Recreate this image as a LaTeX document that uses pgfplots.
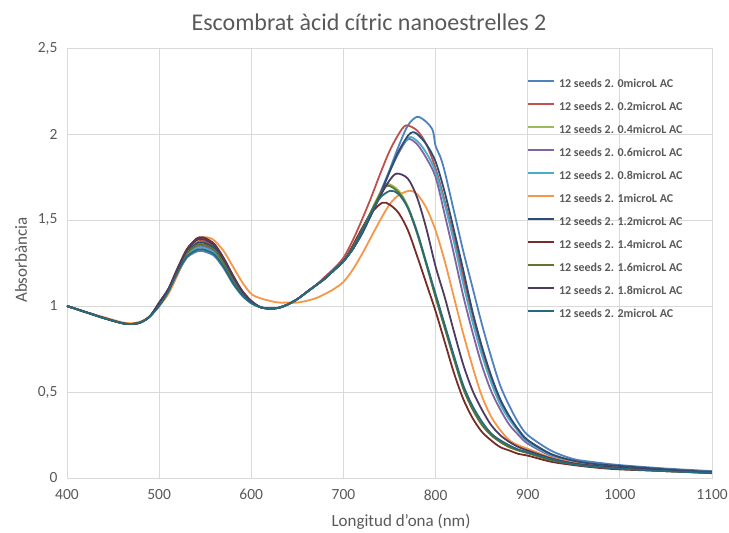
\documentclass[border=0pt]{standalone}
\usepackage{pgfplots}
\pgfplotsset{compat=1.18}
\usepackage{fontspec}
\setmainfont{Carlito}
\definecolor{c0}{HTML}{4F81BD}
\definecolor{c1}{HTML}{C0504D}
\definecolor{c2}{HTML}{9BBB59}
\definecolor{c3}{HTML}{8064A2}
\definecolor{c4}{HTML}{4BACC6}
\definecolor{c5}{HTML}{F79646}
\definecolor{c6}{HTML}{2C4D75}
\definecolor{c7}{HTML}{772C2A}
\definecolor{c8}{HTML}{5F7530}
\definecolor{c9}{HTML}{4D3B62}
\definecolor{c10}{HTML}{276A7C}
\definecolor{txt}{HTML}{595959}
\definecolor{grd}{HTML}{D9D9D9}
\begin{document}
\begin{tikzpicture}
\begin{axis}[
  at={(0pt,0pt)}, anchor=south west,
  scale only axis, width=645pt, height=430pt,
  xmin=400, xmax=1100, ymin=0, ymax=2.5,
  xtick={400,500,...,1100}, ytick={0,0.5,1,1.5,2,2.5},
  grid=major, major grid style={grd, line width=0.75pt},
  axis line style={grd, line width=0.75pt},
  major tick length=0pt,
  tick label style={font=\fontsize{15.5}{18}\selectfont, text=txt},
  /pgf/number format/assume math mode=true,
  /pgf/number format/use comma,
  /pgf/number format/1000 sep={},
  xticklabel style={yshift=-8pt},
  yticklabel style={xshift=-6pt},
  every axis plot/.append style={line width=1.8pt, smooth, tension=0.5, no markers},
  legend cell align=left,
  legend style={at={(0.7132,0.930)}, anchor=north west, draw=none, fill=none,
    inner sep=0pt, outer sep=0pt,
    font=\bfseries\fontsize{12}{14}\selectfont, row sep=11pt,
    nodes={inner sep=0pt, text height=9pt, text depth=3pt, text=txt},
    /tikz/every odd column/.append style={column sep=4pt}},
  legend image code/.code={\draw[#1, line width=2pt] (0pt,3.5pt) -- (26pt,3.5pt);},
]
% 0
\addplot[color=c0] coordinates {(400,1.00)(420,0.965)(440,0.93)(460,0.90)(470,0.895)(480,0.905)(490,0.94)(500,1.00)(510,1.08)(520,1.19)(530,1.28)(540,1.315)(545,1.32)(550,1.315)(560,1.29)(570,1.22)(580,1.13)(590,1.06)(600,1.015)(610,0.993)(620,0.985)(630,0.99)(640,1.01)(650,1.04)(660,1.08)(670,1.12)(680,1.16)(690,1.21)(700,1.26)(710,1.33)(720,1.42)(730,1.54)(740,1.66)(750,1.79)(760,1.93)(770,2.05)(780,2.10)(790,2.07)(797,2.02)(800,1.93)(805,1.87)(810,1.78)(820,1.55)(830,1.32)(840,1.11)(850,0.90)(860,0.71)(870,0.54)(880,0.42)(890,0.32)(900,0.25)(925,0.16)(950,0.11)(975,0.09)(1000,0.075)(1050,0.055)(1100,0.04)};
\addlegendentry{12 seeds 2. 0microL AC}
% 0.2
\addplot[color=c1] coordinates {(400,1.00)(420,0.965)(440,0.93)(460,0.90)(470,0.895)(480,0.905)(490,0.94)(500,1.015)(510,1.095)(520,1.213)(530,1.318)(540,1.371)(545,1.38)(550,1.375)(560,1.343)(570,1.265)(580,1.168)(590,1.083)(600,1.026)(610,0.993)(620,0.985)(630,0.99)(640,1.01)(650,1.04)(660,1.08)(670,1.12)(680,1.17)(690,1.22)(700,1.28)(710,1.38)(720,1.50)(730,1.63)(740,1.77)(750,1.90)(760,2.00)(768,2.05)(780,2.02)(790,1.94)(800,1.80)(810,1.61)(820,1.40)(830,1.17)(840,0.95)(850,0.75)(860,0.58)(870,0.45)(880,0.35)(890,0.28)(900,0.22)(925,0.14)(950,0.10)(975,0.08)(1000,0.07)(1050,0.05)(1100,0.035)};
\addlegendentry{12 seeds 2. 0.2microL AC}
% 0.4
\addplot[color=c2] coordinates {(400,1.00)(420,0.965)(440,0.93)(460,0.90)(470,0.895)(480,0.905)(490,0.94)(500,1.008)(510,1.088)(520,1.201)(530,1.299)(540,1.343)(545,1.35)(550,1.345)(560,1.316)(570,1.243)(580,1.149)(590,1.071)(600,1.021)(610,0.993)(620,0.985)(630,0.99)(640,1.01)(650,1.04)(660,1.08)(670,1.12)(680,1.16)(690,1.21)(700,1.26)(710,1.34)(720,1.44)(730,1.55)(740,1.66)(748,1.71)(760,1.67)(770,1.58)(780,1.43)(790,1.25)(800,1.06)(810,0.88)(820,0.70)(830,0.53)(840,0.41)(850,0.32)(860,0.26)(870,0.21)(880,0.18)(890,0.16)(900,0.145)(925,0.105)(950,0.08)(975,0.065)(1000,0.055)(1050,0.04)(1100,0.03)};
\addlegendentry{12 seeds 2. 0.4microL AC}
% 0.6
\addplot[color=c3] coordinates {(400,1.00)(420,0.965)(440,0.93)(460,0.90)(470,0.895)(480,0.905)(490,0.94)(500,1.008)(510,1.088)(520,1.201)(530,1.299)(540,1.343)(545,1.35)(550,1.345)(560,1.316)(570,1.243)(580,1.149)(590,1.071)(600,1.021)(610,0.993)(620,0.985)(630,0.99)(640,1.01)(650,1.04)(660,1.08)(670,1.12)(680,1.16)(690,1.21)(700,1.26)(710,1.33)(720,1.42)(730,1.53)(740,1.65)(750,1.78)(760,1.89)(770,1.97)(780,1.94)(790,1.86)(800,1.75)(810,1.53)(820,1.30)(830,1.06)(840,0.85)(850,0.66)(860,0.51)(870,0.40)(880,0.31)(890,0.25)(900,0.20)(925,0.13)(950,0.095)(975,0.08)(1000,0.07)(1050,0.05)(1100,0.035)};
\addlegendentry{12 seeds 2. 0.6microL AC}
% 0.8
\addplot[color=c4] coordinates {(400,1.00)(420,0.965)(440,0.93)(460,0.90)(470,0.895)(480,0.905)(490,0.94)(500,1.005)(510,1.085)(520,1.198)(530,1.293)(540,1.334)(545,1.34)(550,1.335)(560,1.308)(570,1.235)(580,1.143)(590,1.068)(600,1.019)(610,0.993)(620,0.985)(630,0.99)(640,1.01)(650,1.04)(660,1.08)(670,1.12)(680,1.16)(690,1.21)(700,1.26)(710,1.33)(720,1.42)(730,1.53)(740,1.65)(750,1.78)(760,1.90)(771,1.98)(780,1.96)(790,1.89)(800,1.78)(810,1.59)(820,1.37)(830,1.13)(840,0.91)(850,0.72)(860,0.56)(870,0.43)(880,0.34)(890,0.27)(900,0.21)(925,0.135)(950,0.10)(975,0.08)(1000,0.07)(1050,0.05)(1100,0.035)};
\addlegendentry{12 seeds 2. 0.8microL AC}
% 1
\addplot[color=c5] coordinates {(400,1.00)(420,0.965)(440,0.935)(460,0.905)(470,0.90)(480,0.91)(490,0.94)(500,1.00)(510,1.07)(520,1.18)(530,1.30)(540,1.375)(548,1.40)(555,1.395)(560,1.38)(570,1.32)(580,1.23)(590,1.14)(600,1.07)(610,1.045)(620,1.03)(630,1.02)(640,1.02)(650,1.02)(660,1.03)(670,1.045)(680,1.07)(690,1.10)(700,1.14)(710,1.21)(720,1.30)(730,1.40)(740,1.50)(750,1.59)(760,1.645)(772,1.67)(780,1.65)(790,1.57)(800,1.44)(810,1.26)(820,1.05)(830,0.84)(840,0.65)(850,0.48)(860,0.36)(870,0.28)(880,0.22)(890,0.19)(900,0.17)(925,0.12)(950,0.09)(975,0.075)(1000,0.065)(1050,0.045)(1100,0.03)};
\addlegendentry{12 seeds 2. 1microL AC}
% 1.2
\addplot[color=c6] coordinates {(400,1.00)(420,0.965)(440,0.93)(460,0.90)(470,0.895)(480,0.905)(490,0.94)(500,1.013)(510,1.093)(520,1.209)(530,1.311)(540,1.362)(545,1.37)(550,1.365)(560,1.334)(570,1.258)(580,1.161)(590,1.079)(600,1.024)(610,0.993)(620,0.985)(630,0.99)(640,1.01)(650,1.04)(660,1.08)(670,1.12)(680,1.16)(690,1.21)(700,1.26)(710,1.33)(720,1.42)(730,1.53)(740,1.65)(750,1.78)(760,1.90)(770,1.99)(775,2.01)(780,2.00)(790,1.94)(800,1.84)(810,1.66)(820,1.44)(830,1.21)(840,0.97)(850,0.77)(860,0.60)(870,0.46)(880,0.36)(890,0.28)(900,0.22)(925,0.14)(950,0.10)(975,0.08)(1000,0.07)(1050,0.05)(1100,0.035)};
\addlegendentry{12 seeds 2. 1.2microL AC}
% 1.4
\addplot[color=c7] coordinates {(400,1.00)(420,0.965)(440,0.93)(460,0.90)(470,0.895)(480,0.905)(490,0.94)(500,1.02)(510,1.10)(520,1.22)(530,1.33)(540,1.39)(545,1.40)(550,1.395)(560,1.36)(570,1.28)(580,1.18)(590,1.09)(600,1.03)(610,0.993)(620,0.985)(630,0.99)(640,1.01)(650,1.04)(660,1.08)(670,1.12)(680,1.16)(690,1.21)(700,1.26)(710,1.35)(720,1.45)(730,1.54)(742,1.60)(750,1.59)(760,1.54)(770,1.44)(780,1.29)(790,1.13)(800,0.97)(810,0.79)(820,0.61)(830,0.46)(840,0.35)(850,0.27)(860,0.22)(870,0.18)(880,0.16)(890,0.14)(900,0.13)(925,0.095)(950,0.075)(975,0.06)(1000,0.05)(1050,0.04)(1100,0.028)};
\addlegendentry{12 seeds 2. 1.4microL AC}
% 1.6
\addplot[color=c8] coordinates {(400,1.00)(420,0.965)(440,0.93)(460,0.90)(470,0.895)(480,0.905)(490,0.94)(500,1.01)(510,1.09)(520,1.205)(530,1.305)(540,1.353)(545,1.36)(550,1.355)(560,1.325)(570,1.25)(580,1.155)(590,1.075)(600,1.023)(610,0.993)(620,0.985)(630,0.99)(640,1.01)(650,1.04)(660,1.08)(670,1.12)(680,1.16)(690,1.21)(700,1.26)(710,1.34)(720,1.44)(730,1.55)(740,1.65)(748,1.70)(760,1.66)(770,1.57)(780,1.42)(790,1.24)(800,1.05)(810,0.87)(820,0.69)(830,0.52)(840,0.40)(850,0.31)(860,0.25)(870,0.21)(880,0.18)(890,0.16)(900,0.145)(925,0.105)(950,0.08)(975,0.065)(1000,0.055)(1050,0.04)(1100,0.03)};
\addlegendentry{12 seeds 2. 1.6microL AC}
% 1.8
\addplot[color=c9] coordinates {(400,1.00)(420,0.965)(440,0.93)(460,0.90)(470,0.895)(480,0.905)(490,0.94)(500,1.018)(510,1.098)(520,1.216)(530,1.324)(540,1.381)(545,1.39)(550,1.385)(560,1.351)(570,1.273)(580,1.174)(590,1.086)(600,1.028)(610,0.993)(620,0.985)(630,0.99)(640,1.01)(650,1.04)(660,1.08)(670,1.12)(680,1.16)(690,1.21)(700,1.26)(710,1.33)(720,1.43)(730,1.53)(740,1.64)(750,1.73)(758,1.77)(770,1.74)(780,1.63)(790,1.45)(800,1.23)(810,1.05)(820,0.85)(830,0.66)(840,0.51)(850,0.40)(860,0.31)(870,0.25)(880,0.21)(890,0.18)(900,0.16)(925,0.115)(950,0.085)(975,0.07)(1000,0.06)(1050,0.045)(1100,0.03)};
\addlegendentry{12 seeds 2. 1.8microL AC}
% 2
\addplot[color=c10] coordinates {(400,1.00)(420,0.965)(440,0.93)(460,0.90)(470,0.895)(480,0.905)(490,0.94)(500,1.00)(510,1.083)(520,1.194)(530,1.286)(540,1.324)(545,1.33)(550,1.325)(560,1.299)(570,1.228)(580,1.136)(590,1.064)(600,1.017)(610,0.993)(620,0.985)(630,0.99)(640,1.01)(650,1.04)(660,1.08)(670,1.12)(680,1.16)(690,1.21)(700,1.26)(710,1.33)(720,1.43)(730,1.54)(740,1.63)(751,1.67)(760,1.65)(770,1.57)(780,1.43)(790,1.25)(800,1.07)(810,0.89)(820,0.71)(830,0.54)(840,0.42)(850,0.33)(860,0.26)(870,0.22)(880,0.19)(890,0.165)(900,0.15)(925,0.11)(950,0.08)(975,0.065)(1000,0.055)(1050,0.04)(1100,0.03)};
\addlegendentry{12 seeds 2. 2microL AC}
\end{axis}
\node[font=\fontsize{24}{28}\selectfont, text=txt] at (302pt,456pt) {Escombrat àcid cítric nanoestrelles 2};
\node[font=\fontsize{17}{20}\selectfont, text=txt, rotate=90] at (-46pt,218pt) {Absorbància};
\node[font=\fontsize{17}{20}\selectfont, text=txt] at (334pt,-44pt) {Longitud d'ona (nm)};
\pgfresetboundingbox
\path (-67pt,-55pt) rectangle (662pt,478pt);
\end{tikzpicture}
\end{document}
